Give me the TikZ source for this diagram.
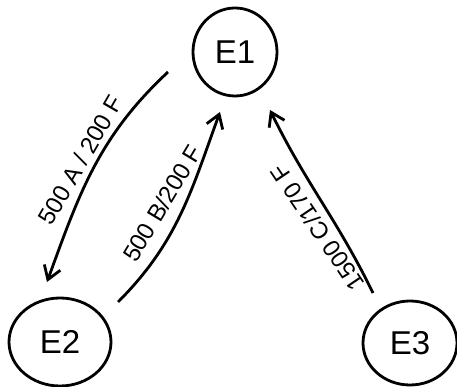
\documentclass[tikz,border=0pt]{standalone}
\usepackage{fontspec}
\setmainfont{Liberation Sans}
\usetikzlibrary{arrows.meta,shapes.geometric}
\begin{document}
\begin{tikzpicture}[x=1pt,y=1pt,
  state/.style={draw, ellipse, line width=2.8pt, inner sep=0pt, font=\fontsize{33}{36}\selectfont},
  conn/.style={line width=2.8pt, -{Straight Barb[length=13pt,width=17pt,line width=2.8pt]}},
  lbl/.style={font=\fontsize{24}{28}\selectfont, inner xsep=1pt}]
\useasboundingbox (0,0) rectangle (457,387);
\node[state, minimum width=84pt, minimum height=88pt] (E1) at (235,335) {E1};
\node[state, minimum width=102pt, minimum height=88pt] (E2) at (60,45) {E2};
\node[state, minimum width=94pt, minimum height=84pt] (E3) at (410,44) {E3};
\draw[conn] ([shift={(-67,-20)}]E1.center) to[out=223,in=70]
  node[lbl, pos=0.5, rotate=60, anchor=south, inner ysep=5pt] {500 A / 200 F}
  ([shift={(-13,60)}]E2.center);
\draw[conn] ([shift={(58,40)}]E2.center) to[out=45,in=250]
  node[lbl, pos=0.5, rotate=59, anchor=south, inner ysep=11pt] {500 B/200 F}
  ([shift={(-15,-60)}]E1.center);
\draw[conn] ([shift={(-37,50)}]E3.center) to[out=116,in=296]
  node[lbl, pos=0.4, rotate=124, anchor=south, inner ysep=7pt] {1500 C/170 F}
  ([shift={(35,-58)}]E1.center);
\end{tikzpicture}
\end{document}
